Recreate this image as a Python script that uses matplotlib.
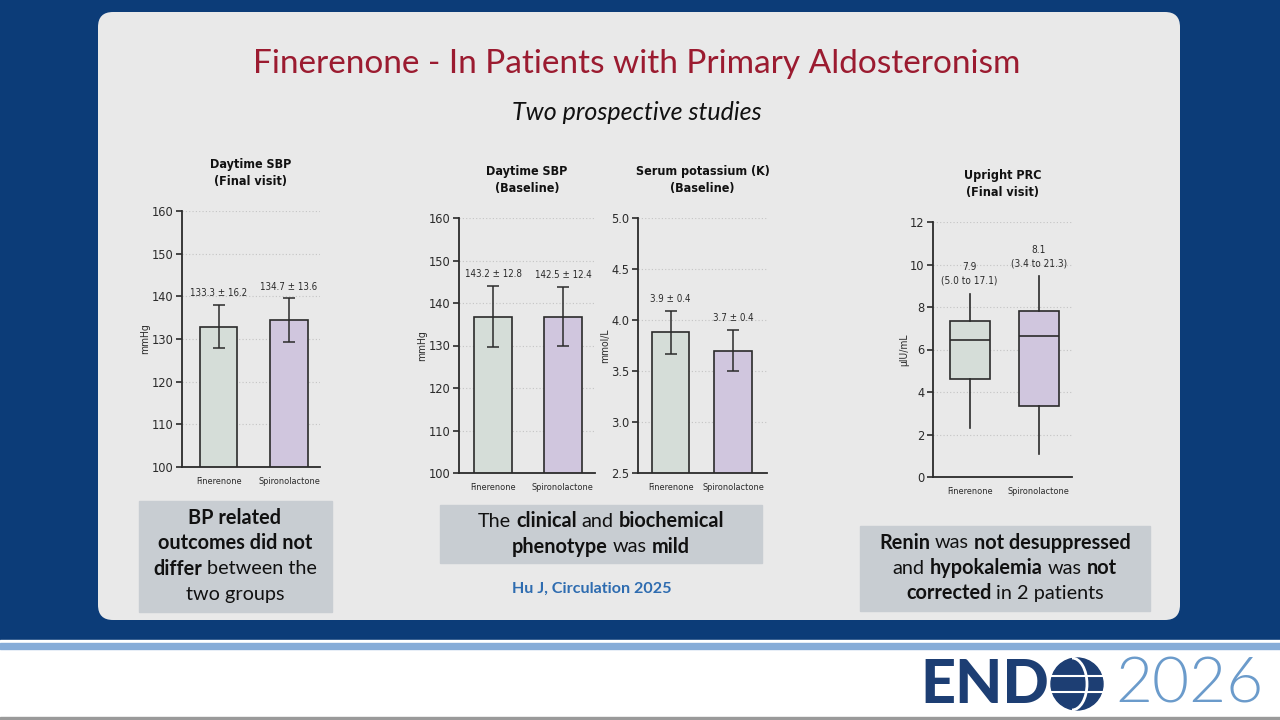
import matplotlib.pyplot as plt
from matplotlib.patches import FancyBboxPatch, Rectangle, Circle, Arc

# данные с графиков
groups = ['Finerenone', 'Spironolactone']

sbp_final_mean = [132.9, 134.4]
sbp_final_err = [5.0, 5.1]
sbp_final_labels = ['133.3 ± 16.2', '134.7 ± 13.6']

sbp_base_mean = [136.8, 136.8]
sbp_base_err = [7.1, 7.0]
sbp_base_labels = ['143.2 ± 12.8', '142.5 ± 12.4']

k_base_mean = [3.88, 3.70]
k_base_err = [0.21, 0.20]
k_base_labels = ['3.9 ± 0.4', '3.7 ± 0.4']

prc_whislo = [2.32, 1.10]
prc_q1 = [4.63, 3.33]
prc_med = [6.43, 6.65]
prc_q3 = [7.34, 7.81]
prc_whishi = [8.63, 9.44]
prc_labels = ['7.9\n(5.0 to 17.1)', '8.1\n(3.4 to 21.3)']

NARROW = dict(family='DejaVu Sans', fontstretch='condensed')
SLIDE = ['Lato', 'DejaVu Sans']
bar_colors = ['#d5ddd8', '#d0c6de']
ink = '#2b2b2b'

fig = plt.figure(figsize=(12.8, 7.2), dpi=100)
fig.patch.set_facecolor('#0c3c78')
bg = fig.add_axes([0, 0, 1, 1])
bg.set_xlim(0, 1280)
bg.set_ylim(720, 0)
bg.axis('off')

# фон слайда
bg.add_patch(Rectangle((0, 640), 1280, 80, color='white'))
bg.add_patch(Rectangle((0, 643), 1280, 6, color='#86acd8'))
bg.add_patch(Rectangle((0, 717), 1280, 3, color='#9a9a9a'))
bg.add_patch(FancyBboxPatch((113, 27), 1052, 578, boxstyle='round,pad=15',
                            fc='#e9e9e9', ec='none'))

bg.text(637, 64, 'Finerenone - In Patients with Primary Aldosteronism',
        ha='center', va='center', fontsize=24, color='#9b1b30', family=SLIDE)
bg.text(637, 112, 'Two prospective studies', ha='center', va='center',
        fontsize=18, style='italic', color='#111111', family=SLIDE)


def px_axes(x0, x1, y_top, y_bot):
    return fig.add_axes([x0 / 1280, 1 - y_bot / 720, (x1 - x0) / 1280, (y_bot - y_top) / 720])


def style(ax, ylim, yticks, fmt, ylabel, xlim, title):
    ax.set_facecolor('none')
    for s in ['top', 'right']:
        ax.spines[s].set_visible(False)
    for s in ['left', 'bottom']:
        ax.spines[s].set_color(ink)
        ax.spines[s].set_linewidth(1.3)
    ax.set_xlim(*xlim)
    ax.set_ylim(*ylim)
    ax.set_yticks(yticks)
    ax.set_yticklabels([fmt % v for v in yticks], **NARROW)
    ax.yaxis.grid(True, linestyle=(0, (1, 2)), color='#c4c4c4', lw=0.8)
    ax.set_axisbelow(True)
    ax.tick_params(axis='y', length=4, width=1.2, labelsize=9.2, pad=2, colors=ink)
    ax.tick_params(axis='x', length=0, labelsize=6.6, pad=7, colors=ink)
    ax.set_xticks([0, 1])
    ax.set_xticklabels(groups, **NARROW)
    ax.set_ylabel(ylabel, fontsize=7.5, color=ink, labelpad=1, **NARROW)
    ax.set_title(title, fontsize=9, fontweight='bold', color='#111111',
                 pad=19, linespacing=1.4, **NARROW)


def bars(ax, mean, err, labels, width):
    ax.bar([0, 1], mean, width=width, color=bar_colors, edgecolor=ink, lw=1.2, zorder=2)
    ax.errorbar([0, 1], mean, yerr=err, fmt='none', ecolor=ink, elinewidth=1.1,
                capsize=4, capthick=1.1, zorder=3)
    for i in range(2):
        ax.annotate(labels[i], (i, mean[i] + err[i]), xytext=(0, 5),
                    textcoords='offset points', ha='center', va='bottom',
                    fontsize=7, color=ink, **NARROW)


ax1 = px_axes(182, 320, 211, 467)
style(ax1, (100, 160), range(100, 161, 10), '%d', 'mmHg', (-0.52, 1.44),
      'Daytime SBP\n(Final visit)')
bars(ax1, sbp_final_mean, sbp_final_err, sbp_final_labels, 0.53)

ax2 = px_axes(459, 595, 218, 473)
style(ax2, (100, 160), range(100, 161, 10), '%d', 'mmHg', (-0.49, 1.46),
      'Daytime SBP\n(Baseline)')
bars(ax2, sbp_base_mean, sbp_base_err, sbp_base_labels, 0.54)

ax3 = px_axes(638, 767, 218, 473)
style(ax3, (2.5, 5.0), [2.5, 3.0, 3.5, 4.0, 4.5, 5.0], '%.1f', 'mmol/L', (-0.52, 1.54),
      'Serum potassium (K)\n(Baseline)')
bars(ax3, k_base_mean, k_base_err, k_base_labels, 0.6)

ax4 = px_axes(933, 1072, 222, 477)
style(ax4, (0, 12), range(0, 13, 2), '%d', 'µIU/mL', (-0.53, 1.48),
      'Upright PRC\n(Final visit)')
stats = [dict(whislo=prc_whislo[i], q1=prc_q1[i], med=prc_med[i], q3=prc_q3[i],
              whishi=prc_whishi[i], fliers=[]) for i in range(2)]
bp = ax4.bxp(stats, positions=[0, 1], widths=0.58, patch_artist=True, showcaps=False,
             boxprops=dict(edgecolor=ink, lw=1.2), medianprops=dict(color=ink, lw=1.2),
             whiskerprops=dict(color=ink, lw=1.2), zorder=2)
for patch, c in zip(bp['boxes'], bar_colors):
    patch.set_facecolor(c)
ax4.set_xticks([0, 1])
ax4.set_xticklabels(groups, **NARROW)
for i in range(2):
    ax4.annotate(prc_labels[i], (i, prc_whishi[i]), xytext=(0, 6),
                 textcoords='offset points', ha='center', va='bottom',
                 fontsize=7.2, color=ink, linespacing=1.4, **NARROW)

# текстовые блоки
renderer = fig.canvas.get_renderer()


def text_w(s, size, weight):
    t = bg.text(0, 0, s, fontsize=size, fontweight=weight, family=SLIDE)
    w = t.get_window_extent(renderer).width
    t.remove()
    return w


def rich_text(lines, cx, cy, size, line_h, color='#111111'):
    sp = text_w('a a', size, 'normal') - text_w('aa', size, 'normal')
    for k, segs in enumerate(lines):
        y = cy + (k - (len(lines) - 1) / 2) * line_h
        objs = [bg.text(0, y, s, fontsize=size, fontweight='bold' if b else 'normal',
                        va='center', ha='left', color=color, family=SLIDE)
                for s, b in segs]
        ws = [o.get_window_extent(renderer).width for o in objs]
        x = cx - (sum(ws) + sp * (len(objs) - 1)) / 2
        for o, w in zip(objs, ws):
            o.set_x(x)
            x += w + sp


box_c = '#c8cdd2'
bg.add_patch(Rectangle((139, 501), 193, 111, color=box_c))
rich_text([[('BP related', 1)],
           [('outcomes did not', 1)],
           [('differ', 1), ('between the', 0)],
           [('two groups', 0)]], 235, 556, 14.3, 25.4)

bg.add_patch(Rectangle((440, 505), 322, 58, color=box_c))
rich_text([[('The', 0), ('clinical', 1), ('and', 0), ('biochemical', 1)],
           [('phenotype', 1), ('was', 0), ('mild', 1)]], 601, 534, 14.3, 25.4)

bg.text(592, 589, 'Hu J, Circulation 2025', ha='center', va='center', fontsize=11.6,
        fontweight='bold', color='#2e6cb0', family=SLIDE)

bg.add_patch(Rectangle((860, 526), 290, 85, color=box_c))
rich_text([[('Renin', 1), ('was', 0), ('not desuppressed', 1)],
           [('and', 0), ('hypokalemia', 1), ('was', 0), ('not', 1)],
           [('corrected', 1), ('in 2 patients', 0)]], 1005, 568, 14.3, 25.4)

# логотип ENDO 2026
bg.text(920, 685, 'END', ha='left', va='center', fontsize=44, fontweight='black',
        color='#1d3e73', family=SLIDE)
bg.add_patch(Circle((1077, 684), 26, color='#1d3e73'))
bg.add_patch(Arc((1072, 684), 30, 52, theta1=-90, theta2=90, color='white', lw=2))
bg.plot([1051, 1103], [676, 676], color='white', lw=1.5)
bg.plot([1052, 1102], [692, 692], color='white', lw=1.5)
bg.text(1115, 685, '2026', ha='left', va='center', fontsize=46, fontweight=300,
        color='#6b9bcb', family=SLIDE)

fig.savefig('out.png', dpi=100, facecolor=fig.get_facecolor())
